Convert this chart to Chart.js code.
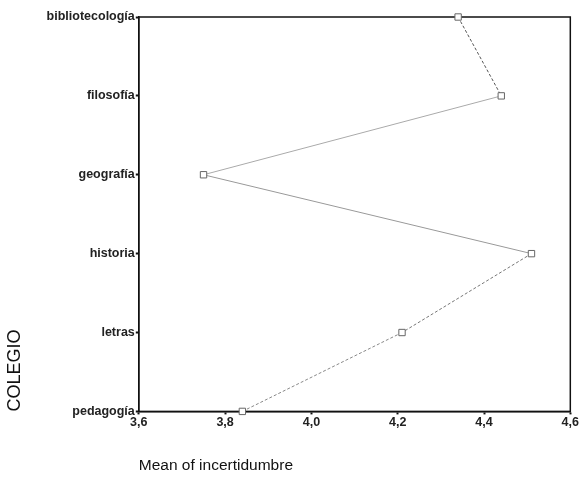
<!DOCTYPE html>
<html>
<head>
<meta charset="utf-8">
<script src="https://cdn.jsdelivr.net/npm/chart.js@4"></script>
<style>
  html, body { margin: 0; padding: 0; background: #fff; }
  #wrap { width: 580px; height: 480px; }
</style>
</head>
<body>
<div id="wrap"><canvas id="meanChart"></canvas></div>
<script>
const categories = ["bibliotecología", "filosofía", "geografía", "historia", "letras", "pedagogía"];
const meanValues = [4.34, 4.44, 3.75, 4.51, 4.21, 3.84];
const xTicks = [3.6, 3.8, 4.0, 4.2, 4.4, 4.6];

// dashed / solid look of each connecting segment, top to bottom
const segDash = [[3, 2], [], [], [3, 2], [3, 2]];
const segColor = ["#555", "#aaa", "#999", "#777", "#888"];

// closes the box around the plot area (top and right sides)
const frame = {
  id: "frame",
  beforeDatasetsDraw(chart) {
    const a = chart.chartArea, ctx = chart.ctx;
    ctx.save();
    ctx.strokeStyle = "#111";
    ctx.lineWidth = 1.5;
    ctx.strokeRect(a.left, a.top, a.right - a.left, a.bottom - a.top);
    ctx.restore();
  }
};

new Chart(document.getElementById("meanChart"), {
  type: "line",
  data: {
    labels: categories,
    datasets: [{
      data: meanValues,
      borderColor: "#999",
      borderWidth: 1,
      pointStyle: "rect",
      pointRadius: 4.5,
      pointBackgroundColor: "#fff",
      pointBorderColor: "#666",
      pointBorderWidth: 1,
      clip: false,
      segment: {
        borderDash: ctx => segDash[ctx.p0DataIndex],
        borderColor: ctx => segColor[ctx.p0DataIndex]
      }
    }]
  },
  options: {
    indexAxis: "y",
    responsive: true,
    maintainAspectRatio: false,
    animation: false,
    layout: { padding: { top: 17, right: 7, left: 4, bottom: 5 } },
    plugins: { legend: { display: false }, tooltip: { enabled: false } },
    scales: {
      x: {
        type: "linear",
        min: 3.6,
        max: 4.6,
        afterBuildTicks: axis => { axis.ticks = xTicks.map(v => ({ value: v })); },
        ticks: {
          color: "#222",
          font: { family: "Liberation Sans", size: 12.5, weight: "bold" },
          padding: 1,
          maxRotation: 0,
          callback: v => v.toFixed(1).replace(".", ",")
        },
        grid: { drawOnChartArea: false, color: "#111", tickLength: 3, tickWidth: 2 },
        border: { color: "#111", width: 1.5 },
        title: {
          display: true,
          text: "Mean of incertidumbre",
          align: "start",
          color: "#111",
          font: { family: "Liberation Sans", size: 15.5 },
          padding: { top: 25, bottom: 0 }
        }
      },
      y: {
        type: "category",
        ticks: {
          color: "#222",
          font: { family: "Liberation Sans", size: 12.5, weight: "bold" },
          padding: 1
        },
        grid: { drawOnChartArea: false, color: "#111", tickLength: 3, tickWidth: 2 },
        border: { color: "#111", width: 1.5 },
        title: {
          display: true,
          text: "COLEGIO",
          align: "start",
          color: "#111",
          font: { family: "Liberation Sans", size: 18 },
          padding: { top: 0, bottom: 20 }
        }
      }
    }
  },
  plugins: [frame]
});
</script>
</body>
</html>
